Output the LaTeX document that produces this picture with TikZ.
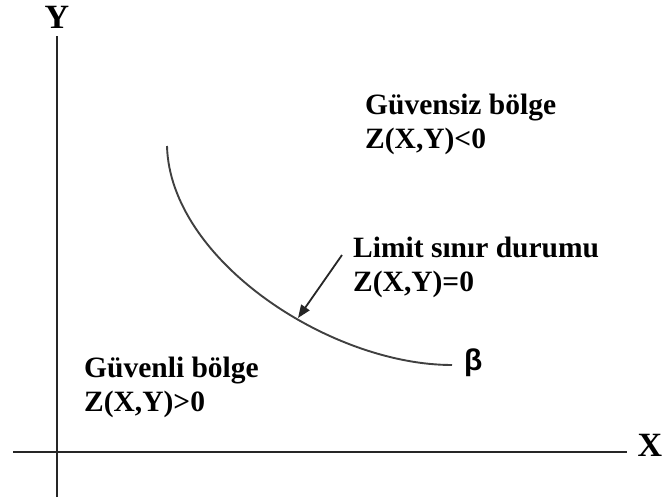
\documentclass[tikz,border=0pt]{standalone}
\usepackage{fontspec}
\setmainfont{Liberation Serif}
\newfontfamily\betafont{Liberation Sans}
\usepackage{tikz}
\usetikzlibrary{arrows.meta, positioning}

\begin{document}
\begin{tikzpicture}[x=1pt, y=-1pt,
    region/.style={font=\fontsize{29.5}{34}\selectfont\bfseries, align=left, anchor=base west, inner sep=0pt},
    axislabel/.style={font=\fontsize{34}{34}\selectfont\bfseries, inner sep=0pt},
    axis/.style={line width=2.6pt, draw=black!85}]
        \useasboundingbox (0,0) rectangle (662,501);
        % axes
        \coordinate (ybot) at (57,497);
        \coordinate (ytop) at (57,36);
        \coordinate (xleft) at (13,452);
        \coordinate (xright) at (627,452);
        \draw [axis] (ybot) -- (ytop);
        \draw [axis] (xleft) -- (xright);
        \node (ylab) [axislabel] at (57,17) {Y};
        \node (xlab) [axislabel] at (650,445) {X};

        % limit state curve
        \coordinate (cstart) at (167,146);
        \coordinate (cend) at (452,365);
        \draw [line width=1.9pt, draw=black!75] (cstart) .. controls (170,260) and (330,365) .. (cend);
        \node (beta) [anchor=west, inner sep=0pt, font=\fontsize{30}{30}\betafont\bfseries] at (464,363) {β};

        % regions (base = last line)
        \node (unsafe) [region] at (365,148) {Güvensiz bölge\\Z(X,Y)<0};
        \node (limit) [region] at (353,291) {Limit sınır durumu\\Z(X,Y)=0};
        \node (safe) [region] at (84,411) {Güvenli bölge\\Z(X,Y)>0};

        \coordinate (arrowtail) at (342,255);
        \coordinate (oncurve) at (298,318);
        \draw [-{Triangle[length=13pt, width=10pt]}, line width=1.8pt, draw=black!85] (arrowtail) -- (oncurve);
    \end{tikzpicture}
\end{document}
